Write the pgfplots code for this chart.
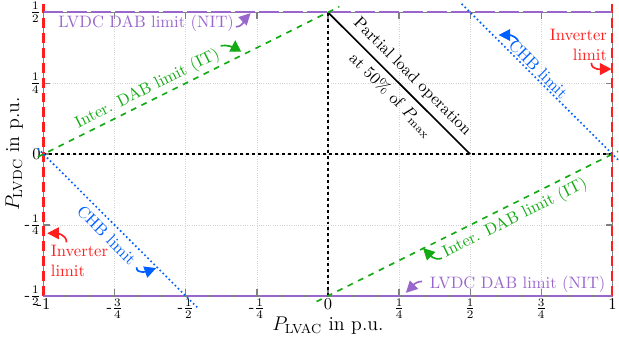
\documentclass[border=0pt]{standalone}
\usepackage{pgfplots}
\pgfplotsset{compat=1.18}
\usetikzlibrary{arrows.meta}
\definecolor{cpurple}{RGB}{153,102,204}
\definecolor{cgreen}{RGB}{20,170,20}
\definecolor{cblue}{RGB}{0,96,255}
\definecolor{cred}{RGB}{255,30,30}
\begin{document}
\begin{tikzpicture}
\begin{axis}[
  scale only axis, width=344pt, height=171.5pt,
  xmin=-1, xmax=1, ymin=-0.5, ymax=0.5,
  clip=false,
  xtick={-1,-0.75,-0.5,-0.25,0,0.25,0.5,0.75,1},
  ytick={-0.5,-0.25,0,0.25,0.5},
  xticklabels={-1,-$\frac{3}{4}$,-$\frac{1}{2}$,-$\frac{1}{4}$,0,$\frac{1}{4}$,$\frac{1}{2}$,$\frac{3}{4}$,1},
  yticklabels={-$\frac{1}{2}$,-$\frac{1}{4}$,0,$\frac{1}{4}$,$\frac{1}{2}$},
  grid=major, grid style={densely dotted, gray!35, line width=0.4pt},
  axis line style={gray, line width=0.8pt},
  tick style={gray, line width=0.8pt}, major tick length=4pt,
  xlabel={\large $P_{\mathrm{LVAC}}$ in p.u.},
  ylabel={\large $P_{\mathrm{LVDC}}$ in p.u.},
  xlabel shift=-6pt, ylabel shift=-4pt,
  xticklabel style={inner sep=1.5pt}, yticklabel style={inner sep=1.5pt},
]
% black reference lines
\addplot[black, line width=1pt, dash pattern=on 1.8pt off 1.8pt] coordinates {(-1,0) (1,0)};
\addplot[black, line width=1pt, dash pattern=on 1.8pt off 1.8pt] coordinates {(0,-0.5) (0,0.5)};
\addplot[black, line width=1pt] coordinates {(0,0.5) (0.5,0)};
% inverter limits
\addplot[cred, line width=1.3pt, dash pattern=on 6pt off 3pt] coordinates {(-1,-0.5) (-1,0.53)};
\addplot[cred, line width=1.3pt, dash pattern=on 6pt off 3pt] coordinates {(1,-0.5) (1,0.53)};
% LVDC DAB limits
\addplot[cpurple, line width=1.1pt, dash pattern=on 12pt off 2.5pt] coordinates {(-1,0.5) (1,0.5)};
\addplot[cpurple, line width=1.1pt, dash pattern=on 12pt off 2.5pt] coordinates {(-1,-0.5) (1,-0.5)};
% Inter DAB limits
\addplot[cgreen, line width=1pt, dash pattern=on 3.5pt off 3.5pt] coordinates {(-1.02,-0.01) (0.04,0.52)};
\addplot[cgreen, line width=1pt, dash pattern=on 3.5pt off 3.5pt] coordinates {(-0.04,-0.52) (1.02,0.01)};
% CHB limits
\addplot[cblue, line width=1pt, dash pattern=on 1pt off 1.6pt] coordinates {(-1.02,0.02) (-0.46,-0.54)};
\addplot[cblue, line width=1pt, dash pattern=on 1pt off 1.6pt] coordinates {(0.47,0.53) (1.02,-0.02)};

% annotations
\node[cpurple, anchor=west] at (axis cs:-0.968,0.462) {LVDC DAB limit (NIT)};
\draw[cpurple, line width=1pt, -{Triangle[length=7pt,width=7pt]}] (axis cs:-0.324,0.449) to[out=0,in=225] (axis cs:-0.272,0.497);

\node[cgreen, rotate=26.5] at (axis cs:-0.634,0.230) {Inter. DAB limit (IT)};
\draw[cgreen, line width=1pt, -{Triangle[length=7pt,width=7pt]}] (axis cs:-0.377,0.382) to[out=10,in=-90] (axis cs:-0.326,0.402);

\node[black, rotate=-45] at (axis cs:0.296,0.272) {Partial load operation};
\node[black, rotate=-45] at (axis cs:0.222,0.208) {at 50\% of $P_{\max}$};

\node[cblue, rotate=-45] at (axis cs:0.740,0.300) {CHB limit};
\draw[cblue, line width=1pt, -{Triangle[length=7pt,width=7pt]}] (axis cs:0.669,0.399) to[out=120,in=0] (axis cs:0.600,0.420);

\node[cred, anchor=east, align=right, inner sep=0pt] at (axis cs:0.982,0.385) {Inverter\\limit};
\draw[cred, line width=1pt, -{Triangle[length=7pt,width=7pt]}] (axis cs:0.926,0.322) to[out=-90,in=180] (axis cs:0.997,0.300);

\node[cred, anchor=west, align=left, inner sep=0pt] at (axis cs:-0.975,-0.378) {Inverter\\limit};
\draw[cred, line width=1pt, -{Triangle[length=7pt,width=7pt]}] (axis cs:-0.919,-0.311) to[out=90,in=0] (axis cs:-0.987,-0.279);

\node[cblue, rotate=-45] at (axis cs:-0.778,-0.286) {CHB limit};
\draw[cblue, line width=1pt, -{Triangle[length=7pt,width=7pt]}] (axis cs:-0.673,-0.399) to[out=-90,in=200] (axis cs:-0.604,-0.402);

\node[cgreen, rotate=26.5] at (axis cs:0.658,-0.226) {Inter. DAB limit (IT)};
\draw[cgreen, line width=1pt, -{Triangle[length=7pt,width=7pt]}] (axis cs:0.401,-0.367) to[out=200,in=-45] (axis cs:0.334,-0.331);

\node[cpurple, anchor=west] at (axis cs:0.338,-0.459) {LVDC DAB limit (NIT)};
\draw[cpurple, line width=1pt, -{Triangle[length=7pt,width=7pt]}] (axis cs:0.331,-0.449) to[out=180,in=45] (axis cs:0.274,-0.489);
\end{axis}
\end{tikzpicture}
\end{document}
